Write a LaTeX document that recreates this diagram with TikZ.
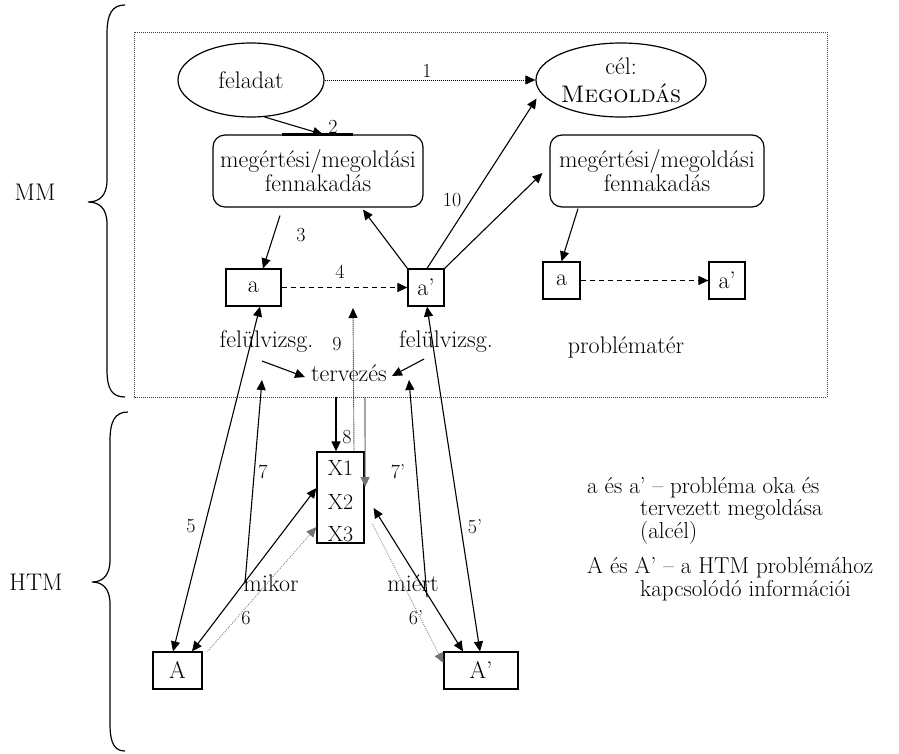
\documentclass[tikz,border=0pt]{standalone}
\usepackage{fontspec}
\usetikzlibrary{arrows.meta,shapes.geometric,calc}

\begin{document}
\begin{tikzpicture}[x=1pt,y=-1pt,
  every node/.style={font=\fontsize{24}{22}\selectfont, inner sep=0pt},
  numlabel/.style={font=\fontsize{20}{22}\selectfont},
  legend/.style={anchor=base west, align=left, font=\fontsize{23}{22.5}\selectfont},
  box/.style={draw, line width=1.2pt, minimum height=37pt},
  rbox/.style={draw, line width=1.2pt, rounded corners=12pt, align=center, minimum height=72pt},
  oval/.style={draw, ellipse, line width=1.2pt, align=center},
  tip/.tip={Triangle[length=10pt,width=9pt]},
  graytip/.tip={Triangle[length=10pt,width=9pt,color=black!55]},
  arr/.style={line width=1.1pt, -tip},
  darr/.style={line width=1.1pt, tip-tip},
  dasharr/.style={line width=1.1pt, dash pattern=on 5pt off 4pt, -tip},
  dotarr/.style={line width=0.9pt, dash pattern=on 1pt off 1pt, -tip},
  grayarr/.style={line width=1.1pt, draw=black!55, -graytip},
  graydot/.style={line width=0.8pt, draw=black!50, dash pattern=on 1pt off 1.2pt, -graytip},
  frame/.style={line width=0.9pt, draw=black!75, dash pattern=on 1pt off 1pt},
  brace/.style={line width=1.2pt}
]
\useasboundingbox (0,0) rectangle (899,753);

% problem space frame
\draw[frame] (134,32) rectangle (827,397);

% braces with their labels
\draw[brace] (125,5) .. controls (112,5) and (107,14) .. (107,34) -- (107,180)
  .. controls (107,195) and (100,202) .. (88,202)
  .. controls (100,202) and (107,209) .. (107,224) -- (107,370)
  .. controls (107,389) and (112,397) .. (125,397);
\draw[brace] (128,412) .. controls (115,412) and (110,421) .. (110,441) -- (110,560)
  .. controls (110,575) and (103,582) .. (92,582)
  .. controls (103,582) and (110,589) .. (110,604) -- (110,724)
  .. controls (110,744) and (115,751) .. (125,751);
\node (MM) at (35,192) {MM};
\node (HTM) at (36,582) {HTM};

% upper level
\node[oval, minimum width=146pt, minimum height=74pt] (feladat) at (251,80) {feladat};
\node[oval, minimum width=156pt, minimum height=74pt, font=\fontsize{24}{28}\selectfont] (cel) at (621,80) {cél:\\\textsc{Megoldás}};
\node[rbox, minimum width=210pt] (box1) at (318,171) {megértési/megoldási\\fennakadás};
\node[rbox, minimum width=214pt] (box2) at (657,171) {megértési/megoldási\\fennakadás};
\node[box, minimum width=55pt] (a1) at (253.5,287.5) {a};
\node[box, minimum width=36pt] (a1p) at (426,287.5) {a’};
\node[box, minimum width=37pt] (a2) at (561.5,280.5) {a};
\node[box, minimum width=36pt] (a2p) at (727,280.5) {a’};
\node (fl) at (266.5,342) {felülvizsg.};
\node (fr) at (446,342) {felülvizsg.};
\node (terv) at (349,373) {tervezés};
\node (prob) at (626,347) {problématér};

% lower level
\node[draw, line width=1.2pt, minimum width=47pt, minimum height=91pt] (X) at (340.5,497.5) {};
\node[font=\fontsize{22}{22}\selectfont] (x1) at (340.5,468) {X1};
\node[font=\fontsize{22}{22}\selectfont] (x2) at (340.5,502) {X2};
\node[font=\fontsize{22}{22}\selectfont] (x3) at (340.5,534) {X3};
\node (mikor) at (271,583) {mikor};
\node (miert) at (413,583) {miért};
\node[box, minimum width=49pt] (A) at (177.5,670.5) {A};
\node[box, minimum width=74pt] (Ap) at (481,670.5) {A’};

% free arrow ends
\coordinate (c9) at (353,308);
\coordinate (c7) at (262,380);
\coordinate (c7p) at (409,380);

% connectors of the upper level
\draw[dotarr] (feladat.east) -- (cel.west);
\draw[line width=2.6pt] ([xshift=-36pt]box1.north) -- ([xshift=35pt]box1.north);
\draw[arr] (feladat.-70) -- ([xshift=5pt]box1.north);
\draw[arr] ([xshift=-38pt,yshift=-8pt]box1.south) -- ([xshift=9.5pt]a1.north);
\draw[dasharr] (a1.east) -- (a1p.west);
\draw[arr] (a1p.north west) -- ([xshift=45pt,yshift=-2pt]box1.south);
\draw[arr] ([xshift=1pt]a1p.north) -- ([xshift=-10pt]cel.194);
\draw[arr] (a1p.north east) -- ([xshift=-7pt,yshift=-2pt]box2.west);
\draw[arr] ([xshift=-79pt,yshift=-1pt]box2.south) -- (a2.north);
\draw[dasharr] (a2.east) -- (a2p.west);
\draw[arr] ([xshift=-4.5pt,yshift=-19pt]fl.center) -- ([xshift=-6pt,yshift=-4pt]terv.west);
\draw[arr] ([xshift=-22pt,yshift=-17pt]fr.center) -- ([xshift=5pt,yshift=-3pt]terv.east);

% connectors between the levels
\draw[arr] ([xshift=-13pt,yshift=-24pt]terv.center) -- ([xshift=-4.5pt]X.north);
\draw[dotarr] ([xshift=13.5pt]X.north) -- (c9);
\draw[grayarr] ([xshift=16pt,yshift=-24pt]terv.center) -- ([xshift=0.5pt,yshift=10.5pt]X.east);
\draw[arr] ([xshift=-26pt]mikor.center) -- (c7);
\draw[arr] ([xshift=14pt,yshift=-14pt]miert.center) -- (c7p);
\draw[darr] ([xshift=-4.5pt]A.north) -- ([xshift=6.5pt]a1.south);
\draw[darr] ([xshift=-1pt]Ap.north) -- ([xshift=1pt]a1p.south);
\draw[darr] ([yshift=9.5pt]X.west) -- ([xshift=14.5pt]A.north);
\draw[darr] ([xshift=9pt,yshift=-10.5pt]X.east) -- ([xshift=-18pt]Ap.north);
\draw[graydot] ([xshift=5pt]A.north east) -- ([yshift=-29.5pt]X.west);
\draw[graydot] ([xshift=8pt,yshift=-26.5pt]X.east) -- ([yshift=7.5pt]Ap.west);

% step numbers
\node[numlabel] (n1) at (427,71) {1};
\node[numlabel] (n2) at (333,127) {2};
\node[numlabel] (n3) at (301,235) {3};
\node[numlabel] (n4) at (340,272) {4};
\node[numlabel] (n9) at (337,344) {9};
\node[numlabel] (n10) at (452,200) {10};
\node[numlabel] (n8) at (347,437) {8};
\node[numlabel] (n7) at (263,472) {7};
\node[numlabel] (n7p) at (398,472) {7’};
\node[numlabel] (n5) at (191,526) {5};
\node[numlabel] (n5p) at (475,527) {5’};
\node[numlabel] (n6) at (246,618) {6};
\node[numlabel] (n6p) at (416,618) {6’};

% legend
\node[legend] (leg1) at (587,538) {a és a’ – probléma oka és\\\hspace*{53pt}tervezett megoldása\\\hspace*{53pt}(alcél)};
\node[legend] (leg2) at (587,596) {A és A’ – a HTM problémához\\\hspace*{53pt}kapcsolódó információi};
\end{tikzpicture}
\end{document}
